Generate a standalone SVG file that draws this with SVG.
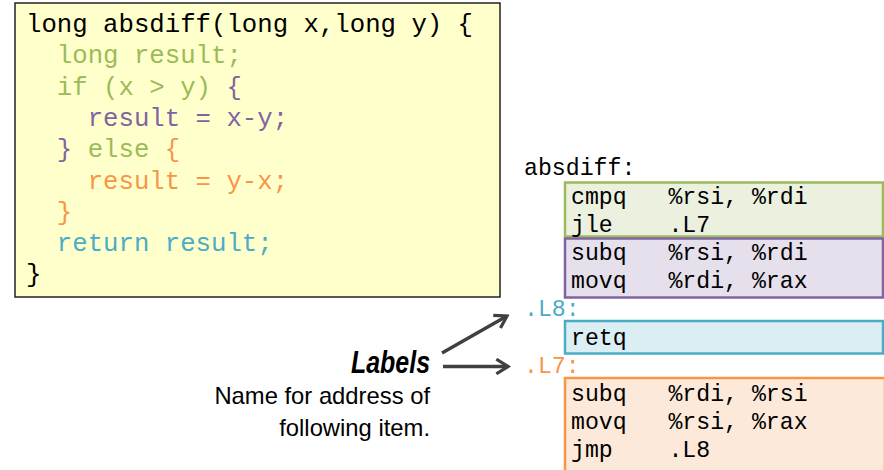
<svg xmlns="http://www.w3.org/2000/svg" width="884" height="470" viewBox="0 0 884 470">
<defs>
<style>
.code{font-family:"Liberation Mono","Courier New",monospace;font-size:25.7px;fill:#000}
.asm{font-family:"Liberation Mono","Courier New",monospace;font-size:23.2px;fill:#000}
.g{fill:#9bbb59}.p{fill:#8064a2}.o{fill:#f79646}.b{fill:#4bacc6}
.lbl{font-family:"Liberation Sans",Arial,sans-serif;fill:#000}
.arr{stroke:#404040;stroke-width:3.5;fill:none}
</style>
<marker id="ah" viewBox="0 0 12 12" refX="10" refY="6" markerWidth="5" markerHeight="5" orient="auto" markerUnits="strokeWidth">
<path d="M2,1 L10,6 L2,11" fill="none" stroke="#404040" stroke-width="2.2" stroke-linejoin="miter"/>
</marker>
</defs>
<rect width="884" height="470" fill="#fff"/>
<g id="c-code">
<rect x="15" y="3" width="485" height="294" fill="#ffffcc" stroke="#222" stroke-width="1.5"/>
<text class="code" xml:space="preserve"><tspan x="26" y="32">long absdiff(long x,long y) {</tspan><tspan x="26" y="63.3" class="g">  long result;</tspan><tspan x="26" y="94.6"><tspan class="g">  if (x &gt; y) </tspan><tspan class="p">{</tspan></tspan><tspan x="26" y="125.9" class="p">    result = x-y;</tspan><tspan x="26" y="157.2"><tspan class="p">  }</tspan><tspan class="g"> else </tspan><tspan class="o">{</tspan></tspan><tspan x="26" y="188.5" class="o">    result = y-x;</tspan><tspan x="26" y="219.8" class="o">  }</tspan><tspan x="26" y="251.1" class="b">  return result;</tspan><tspan x="26" y="282.4">}</tspan></text>
</g>
<g id="asm-label">
<text class="asm" x="524" y="175">absdiff:</text>
</g>
<g id="blk-cmp">
<rect x="565" y="182.5" width="318" height="54" fill="#ebf1de" stroke="#9bbb59" stroke-width="2.5"/>
<text class="asm" xml:space="preserve"><tspan x="571" y="204">cmpq   %rsi, %rdi</tspan><tspan x="571" y="232">jle    .L7</tspan></text>
</g>
<g id="blk-sub">
<rect x="565" y="238.5" width="318" height="59" fill="#e5e0ec" stroke="#8064a2" stroke-width="2.5"/>
<text class="asm" xml:space="preserve"><tspan x="571" y="260">subq   %rsi, %rdi</tspan><tspan x="571" y="288">movq   %rdi, %rax</tspan></text>
</g>
<g id="lbl-L8">
<text class="asm b" x="524" y="316">.L8:</text>
</g>
<g id="blk-ret">
<rect x="565" y="321" width="318" height="32.5" fill="#dbeef4" stroke="#4bacc6" stroke-width="2.5"/>
<text class="asm" x="571" y="345">retq</text>
</g>
<g id="lbl-L7">
<text class="asm o" x="524" y="373">.L7:</text>
</g>
<g id="blk-else">
<rect x="565" y="378" width="320" height="100" fill="#fde9d9" stroke="#f79646" stroke-width="2.5"/>
<text class="asm" xml:space="preserve"><tspan x="571" y="401">subq   %rdi, %rsi</tspan><tspan x="571" y="429">movq   %rsi, %rax</tspan><tspan x="571" y="457">jmp    .L8</tspan></text>
</g>
<g id="labels-note">
<text class="lbl" x="430" y="373" text-anchor="end" font-size="32" font-weight="bold" font-style="italic" textLength="79" lengthAdjust="spacingAndGlyphs">Labels</text>
<text class="lbl" font-size="23.8" text-anchor="end"><tspan x="430" y="404">Name for address of</tspan><tspan x="430" y="436">following item.</tspan></text>
</g>
<g id="connectors">
<line class="arr" x1="442" y1="353" x2="507" y2="316" marker-end="url(#ah)"/>
<line class="arr" x1="443" y1="366.5" x2="508" y2="366.5" marker-end="url(#ah)"/>
</g>
</svg>
